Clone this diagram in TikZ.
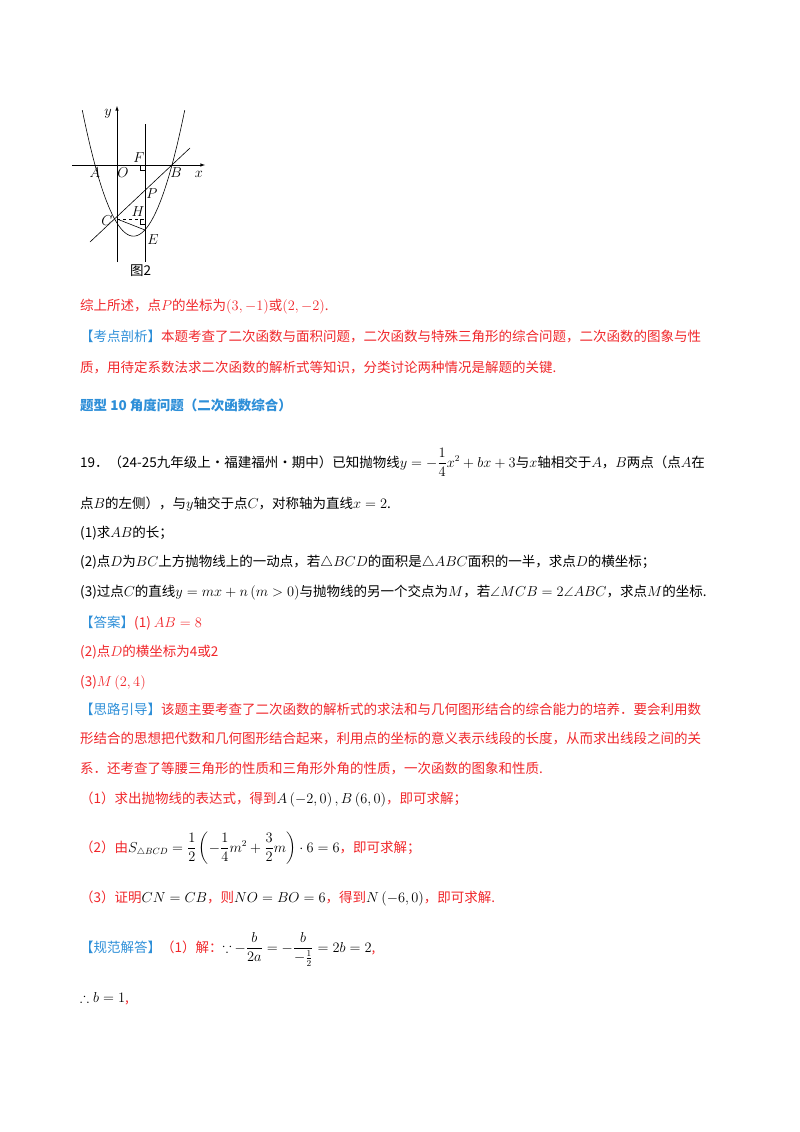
\documentclass[tikz,border=0pt]{standalone}
\usepackage{fontspec}
\usepackage{amsmath,amssymb}
\newfontfamily\cjk{Noto Sans CJK SC}
\definecolor{rd}{HTML}{F0262A}
\definecolor{bl}{HTML}{2E8FD8}
\tikzset{txt/.style={anchor=base west,inner sep=0pt,font=\cjk\fontsize{13.5}{16}\selectfont},
 lab/.style={inner sep=1pt,font=\fontsize{14}{15}\selectfont}}
\begin{document}
\begin{tikzpicture}[x=1pt,y=-1pt]
\useasboundingbox (0,0) rectangle (800,1132);
% graph
\begin{scope}[line width=0.6pt]
\coordinate (O) at (117,165);
\draw[-latex] (72,165) -- (205,165);
\draw[-latex] (117,262) -- (117,106);
\clip (60,110) rectangle (220,262);
\draw[domain=82:186,samples=60] plot (\x,{165-0.048*(\x-95)*(\x-172)});
\draw (145,124) -- (145,262);
\draw (90,242) -- (190,148);
\draw[dashed] (117,219) -- (145,219);
\draw (117,219) -- (145,230);
\draw (140,165) -- (140,170) -- (145,170);
\draw (140,219) -- (140,224) -- (145,224);
\end{scope}
\node[lab] (xl) at (199,174) {$x$};
\node[lab] (yl) at (108,114) {$y$};
\node[lab] (A) at (95,173) {$A$};
\node[lab] (Ol) at (123,173) {$O$};
\node[lab] (B) at (176,173) {$B$};
\node[lab] (F) at (139,158) {$F$};
\node[lab] (P) at (152,194) {$P$};
\node[lab] (C) at (107,221) {$C$};
\node[lab] (H) at (138,212) {$H$};
\node[lab] (E) at (153,240) {$E$};
\node[txt] at (130,275) {图2};
\node[txt,text=rd] at (80,310) {综上所述，点$P$的坐标为$(3,-1)$或$(2,-2)$.};
\node[txt,text=rd] at (80,341) {\textcolor{bl}{【考点剖析】}本题考查了二次函数与面积问题，二次函数与特殊三角形的综合问题，二次函数的图象与性};
\node[txt,text=rd] at (80,372) {质，用待定系数法求二次函数的解析式等知识，分类讨论两种情况是解题的关键.};
\node[txt,text=bl,font=\cjk\bfseries\fontsize{13.5}{16}\selectfont] at (80,410) {题型 10\ 角度问题（二次函数综合）};
\node[txt] at (80,467) {19．（24-25九年级上・福建福州・期中）已知抛物线$y=-\dfrac14x^2+bx+3$与$x$轴相交于$A$，$B$两点（点$A$在};
\node[txt] at (80,508) {点$B$的左侧），与$y$轴交于点$C$，对称轴为直线$x=2$.};
\node[txt] at (80,537) {(1)求$AB$的长；};
\node[txt] at (80,566) {(2)点$D$为$BC$上方抛物线上的一动点，若$\triangle BCD$的面积是$\triangle ABC$面积的一半，求点$D$的横坐标；};
\node[txt] at (80,596) {(3)过点$C$的直线$y=mx+n\left(m>0\right)$与抛物线的另一个交点为$M$，若$\angle MCB=2\angle ABC$，求点$M$的坐标.};
\node[txt,text=rd] at (80,627) {\textcolor{bl}{【答案】}(1) $AB=8$};
\node[txt,text=rd] at (80,656) {(2)点$D$的横坐标为4或2};
\node[txt,text=rd] at (80,686) {(3)$M\left(2,4\right)$};
\node[txt,text=rd] at (80,714) {\textcolor{bl}{【思路引导】}该题主要考查了二次函数的解析式的求法和与几何图形结合的综合能力的培养．要会利用数};
\node[txt,text=rd] at (80,743) {形结合的思想把代数和几何图形结合起来，利用点的坐标的意义表示线段的长度，从而求出线段之间的关};
\node[txt,text=rd] at (80,773) {系．还考查了等腰三角形的性质和三角形外角的性质，一次函数的图象和性质.};
\node[txt,text=rd] at (80,803) {（1）求出抛物线的表达式，得到\textcolor{black}{$A\left(-2,0\right),B\left(6,0\right)$}，即可求解；};
\node[txt,text=rd] at (80,852) {（2）由\textcolor{black}{$S_{\triangle BCD}=\dfrac12\left(-\dfrac14m^2+\dfrac32m\right)\cdot6=6$}，即可求解；};
\node[txt,text=rd] at (80,902) {（3）证明\textcolor{black}{$CN=CB$}，则\textcolor{black}{$NO=BO=6$}，得到\textcolor{black}{$N\left(-6,0\right)$}，即可求解.};
\node[txt,text=rd] at (80,952) {\textcolor{bl}{【规范解答】}（1）解：\textcolor{black}{$\because$\ $-\dfrac{b}{2a}=-\dfrac{b}{-\frac12}=2b=2$},};
\node[txt,text=rd] at (80,1002) {\textcolor{black}{$\therefore b=1$},};
\end{tikzpicture}
\end{document}
